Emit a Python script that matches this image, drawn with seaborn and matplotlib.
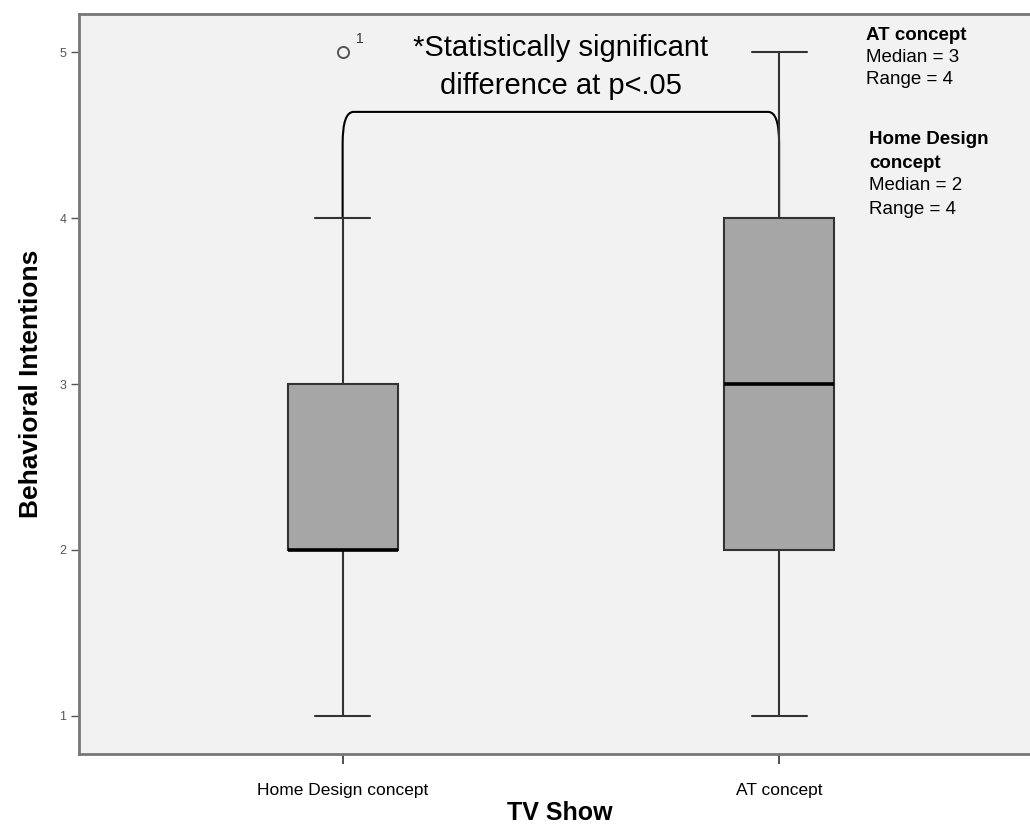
import matplotlib
matplotlib.use('Agg')
import matplotlib.pyplot as plt
from matplotlib.path import Path
from matplotlib.patches import PathPatch
import seaborn as sns
import pandas as pd

# responses per TV show (whiskers, quartiles, median, outlier)
home_design = [1, 2, 2, 2, 2, 2, 2, 3, 3, 3, 4, 5]
at_concept = [1, 2, 2, 3, 3, 3, 4, 4, 5]
shows = ['Home Design concept', 'AT concept']
y_ticks = [1, 2, 3, 4, 5]

df = pd.DataFrame({
    'show': [shows[0]] * len(home_design) + [shows[1]] * len(at_concept),
    'value': home_design + at_concept,
})

sns.set_theme(style='ticks', rc={'text.color': 'black', 'axes.labelcolor': 'black',
                                 'xtick.color': 'black'})
plt.rcParams['font.family'] = ['Liberation Sans', 'DejaVu Sans']

fig = plt.figure(figsize=(10.3, 8.25), dpi=100)
W, H = 1030, 825
ax = fig.add_axes([79 / W, 1 - 754 / H, (1041 - 79) / W, (754 - 14) / H])
ax.set_facecolor('#f2f2f2')

sns.boxplot(data=df, x='show', y='value', order=shows, ax=ax, width=0.252,
            color='#a6a6a6', saturation=1, linecolor='#333333', linewidth=1.5,
            medianprops={'color': 'black', 'linewidth': 2.6},
            flierprops={'marker': 'o', 'markersize': 8, 'markerfacecolor': 'none',
                        'markeredgecolor': '#555555', 'markeredgewidth': 1.4})

ax.set_xlim(-0.604, 1.60)
ax.set_ylim(0.77, 5.23)
ax.set_yticks(y_ticks)
ax.set_yticklabels([str(t) for t in y_ticks], fontsize=9, color='#555555')
ax.tick_params(axis='y', length=6, width=1, color='#555555', pad=3)
ax.tick_params(axis='x', length=7, width=1.2, color='#333333', labelsize=12.5, pad=14)

for side in ['left', 'bottom', 'top']:
    ax.spines[side].set_color('#777777')
    ax.spines[side].set_linewidth(2)
ax.spines['right'].set_visible(False)

ax.set_xlabel('TV Show', fontsize=18, fontweight='bold', labelpad=2)
ax.set_ylabel('Behavioral Intentions', fontsize=19, fontweight='bold', labelpad=12)

# outlier case label
ax.text(0.03, 5.04, '1', fontsize=10, color='#333333', ha='left', va='bottom')

# significance bracket
top = 4.64
verts = [(0, 4.0), (0, 4.45), (0, top), (0.025, top), (0.975, top), (1.0, top), (1.0, 4.45), (1.0, 4.0)]
codes = [Path.MOVETO, Path.LINETO, Path.CURVE3, Path.CURVE3, Path.LINETO,
         Path.CURVE3, Path.CURVE3, Path.LINETO]
ax.add_patch(PathPatch(Path(verts, codes), facecolor='none', edgecolor='black', linewidth=1.5))
ax.text(0.5, 4.91, '*Statistically significant\ndifference at p<.05', ha='center', va='center',
        fontsize=21, linespacing=1.42)

# summary notes
note_kw = dict(transform=fig.transFigure, fontsize=13.5, va='center', ha='left')
fig.text(866 / W, 1 - 35 / H, 'AT concept', fontweight='bold', **note_kw)
fig.text(866 / W, 1 - 58 / H, 'Median = 3', **note_kw)
fig.text(866 / W, 1 - 80 / H, 'Range = 4', **note_kw)
fig.text(869 / W, 1 - 140 / H, 'Home Design', fontweight='bold', **note_kw)
fig.text(869 / W, 1 - 163 / H, 'concept', fontweight='bold', **note_kw)
fig.text(869 / W, 1 - 186 / H, 'Median = 2', **note_kw)
fig.text(869 / W, 1 - 209 / H, 'Range = 4', **note_kw)

fig.savefig('out.png', dpi=100, facecolor='white')
